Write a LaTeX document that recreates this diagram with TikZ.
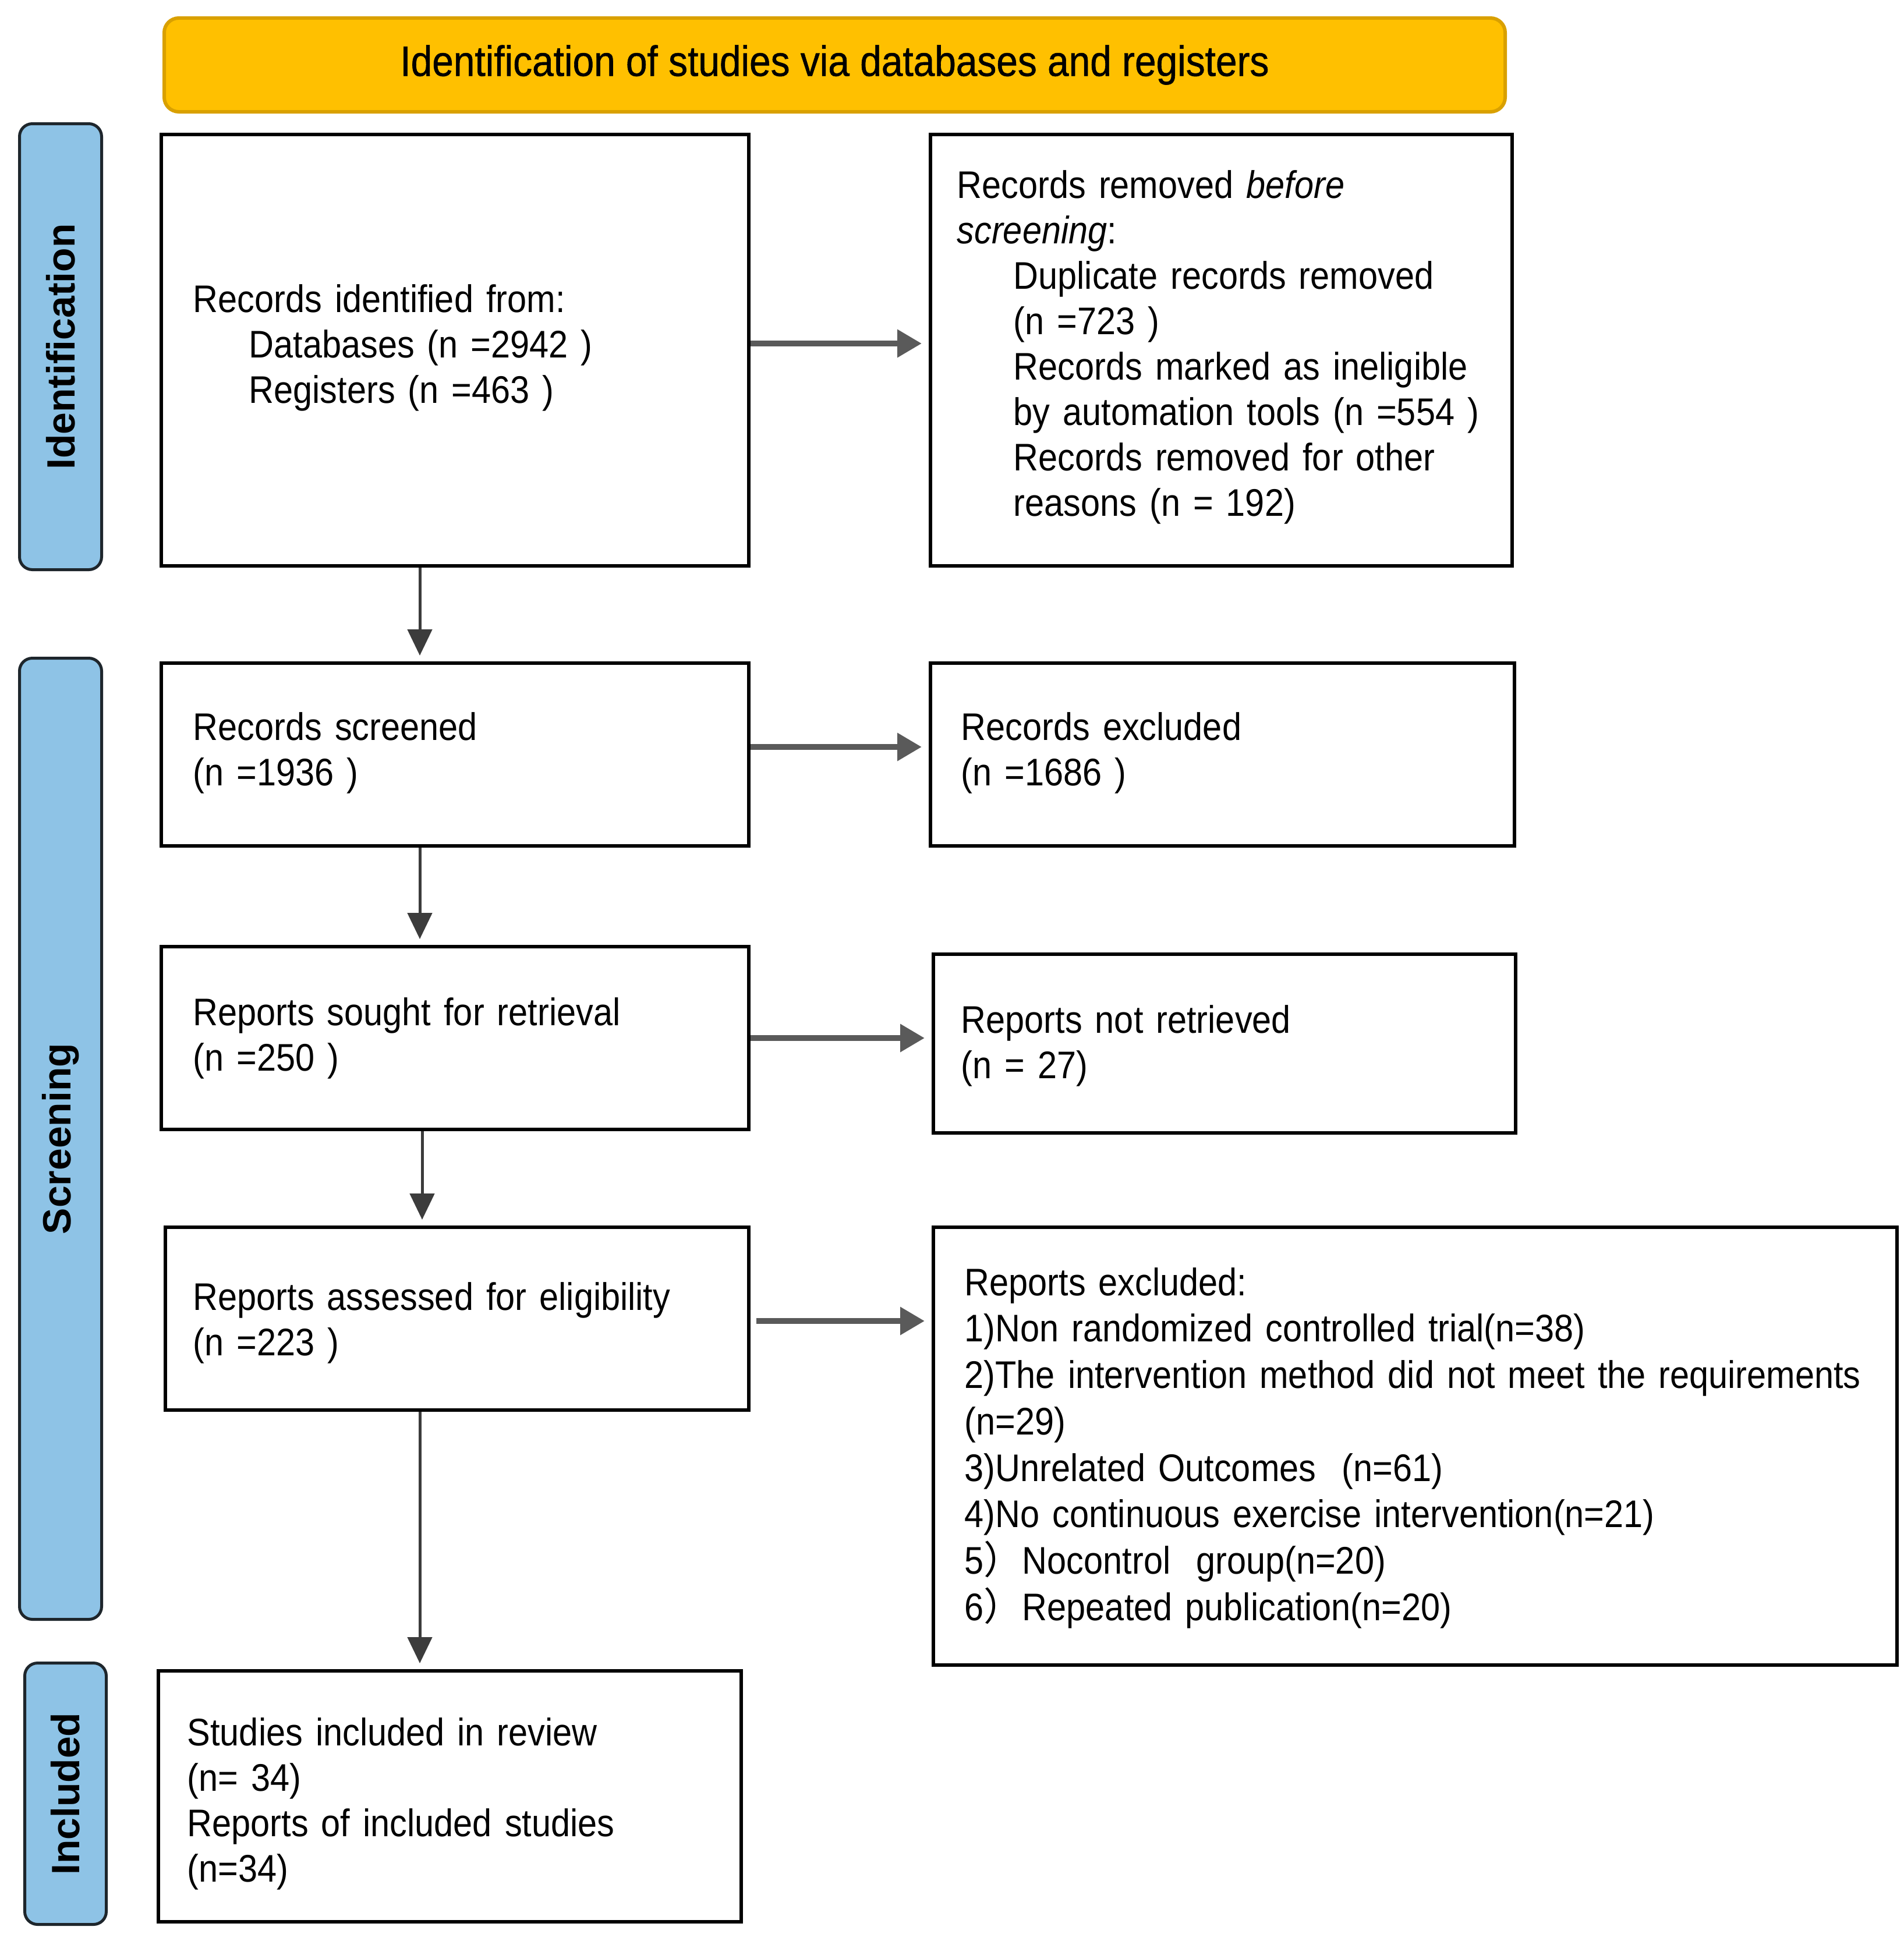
\documentclass[tikz,border=0pt]{standalone}
\usepackage{fontspec}
\setmainfont{Liberation Sans}[FakeStretch=0.9]
\newfontfamily\lblfont{Liberation Sans}
\newfontfamily\hdrfont{Liberation Sans}[FakeStretch=0.9,FakeBold=0.8]
\newfontfamily\cjk{Noto Sans CJK SC}
\usetikzlibrary{arrows.meta,calc}
\definecolor{hdrfill}{HTML}{FFC000}
\definecolor{hdrline}{HTML}{D9A000}
\definecolor{barfill}{HTML}{8EC3E6}
\definecolor{barline}{HTML}{1E262C}
\definecolor{harrow}{HTML}{5A5A5A}
\definecolor{varrow}{HTML}{3C3C3C}
\tikzset{
  box/.style={draw=black, line width=0.06cm, fill=white, inner sep=0, anchor=north west},
  bar/.style={draw=barline, line width=0.05cm, fill=barfill, rounded corners=0.22cm, inner sep=0, anchor=north west},
  hdr/.style={draw=hdrline, line width=0.06cm, fill=hdrfill, rounded corners=0.25cm, inner sep=0, anchor=north west},
  txt/.style={anchor=base west, inner sep=0, text width=16cm, align=left, font=\fontsize{18.8}{22.2}\selectfont},
  lbl/.style={rotate=90, inner sep=0, font=\lblfont\bfseries\fontsize{19.3}{22}\selectfont},
  harr/.style={draw=harrow, line width=0.1cm, -{Triangle[length=0.42cm,width=0.46cm]}, shorten >=0.12cm},
  varr/.style={draw=varrow, line width=0.05cm, -{Triangle[length=0.45cm,width=0.42cm]}, shorten >=0.1cm}
}
\begin{document}
\begin{tikzpicture}[x=1cm,y=1cm]
\useasboundingbox (0,0) rectangle (32.69,-33.34);
% header
\node[hdr, minimum width=23.03cm, minimum height=1.61cm] (hdr) at (2.79,-0.28)
  {\hdrfont\fontsize{20.8}{24}\selectfont Identification of studies via databases and registers};
% side bars
\node[bar, minimum width=1.41cm, minimum height=7.66cm] (idbar) at (0.31,-2.10) {};
\node[lbl] (idlbl) at (idbar.center) {Identification};
\node[bar, minimum width=1.41cm, minimum height=16.51cm] (scrbar) at (0.31,-11.28) {};
\node[lbl] (scrlbl) at (scrbar.center) {Screening};
\node[bar, minimum width=1.40cm, minimum height=4.49cm] (incbar) at (0.40,-28.54) {};
\node[lbl] (inclbl) at (incbar.center) {Included};
% boxes
\node[box, minimum width=10.09cm, minimum height=7.41cm] (ident) at (2.74,-2.28) {};
\node[box, minimum width=9.99cm, minimum height=7.41cm] (removed) at (15.95,-2.28) {};
\node[box, minimum width=10.09cm, minimum height=3.14cm] (screened) at (2.74,-11.36) {};
\node[box, minimum width=10.03cm, minimum height=3.14cm] (excluded) at (15.95,-11.36) {};
\node[box, minimum width=10.09cm, minimum height=3.14cm] (sought) at (2.74,-16.23) {};
\node[box, minimum width=10.00cm, minimum height=3.07cm] (notret) at (16.00,-16.36) {};
\node[box, minimum width=10.02cm, minimum height=3.14cm] (assessed) at (2.81,-21.05) {};
\node[box, minimum width=16.55cm, minimum height=7.52cm] (repexcl) at (16.00,-21.05) {};
\node[box, minimum width=10.01cm, minimum height=4.31cm] (studies) at (2.69,-28.67) {};
% texts
\node[txt] (t1) at (3.31,-5.36) {Records identified from:\\
  \hspace*{0.96cm}Databases (n =2942 )\\
  \hspace*{0.96cm}Registers (n =463 )};
\node[txt] (t2) at (16.43,-3.40) {Records removed \textit{before}\\
  \textit{screening}:\\
  \hspace*{0.97cm}Duplicate records removed\\
  \hspace*{0.97cm}(n =723 )\\
  \hspace*{0.97cm}Records marked as ineligible\\
  \hspace*{0.97cm}by automation tools (n =554 )\\
  \hspace*{0.97cm}Records removed for other\\
  \hspace*{0.97cm}reasons (n = 192)};
\node[txt] (t3) at (3.31,-12.71) {Records screened\\(n =1936 )};
\node[txt] (t4) at (16.50,-12.71) {Records excluded\\(n =1686 )};
\node[txt] (t5) at (3.31,-17.61) {Reports sought for retrieval\\(n =250 )};
\node[txt] (t6) at (16.50,-17.74) {Reports not retrieved\\(n = 27)};
\node[txt] (t7) at (3.31,-22.50) {Reports assessed for eligibility\\(n =223 )};
\node[txt, font=\fontsize{18.8}{22.7}\selectfont] (t8) at (16.56,-22.25) {Reports excluded:\\
  1)Non randomized controlled trial(n=38)\\
  2)The intervention method did not meet the requirements\\
  (n=29)\\
  3)Unrelated Outcomes\ \ (n=61)\\
  4)No continuous exercise intervention(n=21)\\
  5{\cjk ）}Nocontrol\ \ group(n=20)\\
  6{\cjk ）}Repeated publication(n=20)};
\node[txt] (t9) at (3.21,-29.98) {Studies included in review\\(n= 34)\\Reports of included studies\\(n=34)};
% connectors
\coordinate (vx) at (7.21,0);
\coordinate (vy) at (7.25,0);
\draw[harr] (ident.east |- 0,-5.90) -- (removed.west |- 0,-5.90);
\draw[harr] (screened.east |- 0,-12.83) -- (excluded.west |- 0,-12.83);
\draw[harr] (sought.east) -- (sought.east -| notret.west);
\draw[harr, shorten <=0.1cm] (assessed.east |- 0,-22.69) -- (repexcl.west |- 0,-22.69);
\draw[varr] (ident.south -| vx) -- (screened.north -| vx);
\draw[varr] (screened.south -| vx) -- (sought.north -| vx);
\draw[varr] (sought.south -| vy) -- (assessed.north -| vy);
\draw[varr] (assessed.south -| vx) -- (studies.north -| vx);
\end{tikzpicture}
\end{document}
